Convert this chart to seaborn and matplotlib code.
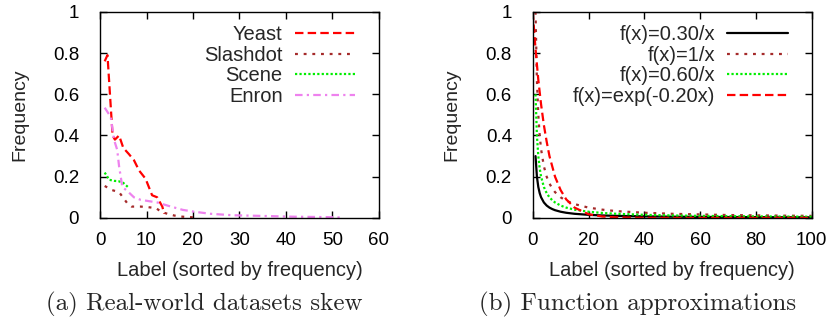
import matplotlib
matplotlib.use("Agg")
import matplotlib.pyplot as plt
import seaborn as sns

# (a) real-world datasets: label frequency, sorted
yeast_x = [1, 1.6, 2.7, 3.2, 4.1, 5.0, 6.2, 7.3, 8.4, 9.8, 10.5, 11.2, 12.3, 13.4, 13.8]
yeast_y = [0.76, 0.79, 0.40, 0.38, 0.40, 0.34, 0.31, 0.28, 0.23, 0.19, 0.15, 0.11, 0.10, 0.055, 0.02]

slashdot_x = [1, 2.6, 4.1, 5.9, 6.8, 8.7, 10.1, 12.1, 13.1, 14.5, 15.9, 17, 18.5, 20]
slashdot_y = [0.155, 0.135, 0.125, 0.07, 0.055, 0.055, 0.053, 0.047, 0.03, 0.02, 0.012, 0.007, 0.005, 0.003]

scene_x = [1, 2, 3, 4, 5, 6]
scene_y = [0.22, 0.185, 0.18, 0.178, 0.17, 0.15]

enron_x = [1, 2.3, 3.0, 3.7, 4.1, 4.8, 5.9, 7.3, 8.7, 10.9, 12.3, 14.8, 17.8, 20.6,
           23.8, 28.5, 34.3, 41.4, 48.6, 52]
enron_y = [0.535, 0.49, 0.38, 0.33, 0.25, 0.15, 0.13, 0.10, 0.088, 0.08, 0.075, 0.058,
           0.039, 0.029, 0.02, 0.013, 0.01, 0.006, 0.004, 0.002]

# (b) function approximations
fx = [1, 1.5, 2, 2.5, 3, 4, 5, 6, 7, 8, 10, 12, 15, 20, 25, 30, 40, 50, 60, 70, 80, 90, 100]
f030 = [0.30, 0.20, 0.15, 0.12, 0.10, 0.075, 0.06, 0.05, 0.043, 0.0375, 0.03, 0.025, 0.02,
        0.015, 0.012, 0.01, 0.0075, 0.006, 0.005, 0.0043, 0.0038, 0.0033, 0.003]
f100 = [1.0, 0.667, 0.5, 0.4, 0.333, 0.25, 0.2, 0.167, 0.143, 0.125, 0.1, 0.083, 0.067,
        0.05, 0.04, 0.033, 0.025, 0.02, 0.017, 0.014, 0.0125, 0.011, 0.01]
f060 = [0.6, 0.4, 0.3, 0.24, 0.2, 0.15, 0.12, 0.1, 0.086, 0.075, 0.06, 0.05, 0.04, 0.03,
        0.024, 0.02, 0.015, 0.012, 0.01, 0.0086, 0.0075, 0.0067, 0.006]
ex = [0, 1, 2, 3, 4, 5, 6, 8, 10, 12, 15, 20, 25, 30, 40, 50, 60, 80, 100]
fexp = [1.0, 0.82, 0.67, 0.55, 0.45, 0.37, 0.30, 0.20, 0.135, 0.09, 0.05, 0.018, 0.0067,
        0.0025, 0.0003, 0.0, 0.0, 0.0, 0.0]

sns.set_style("ticks")
plt.rcParams["font.family"] = ["Liberation Sans", "DejaVu Sans"]

RED = "#ff0000"
BROWN = "#a52a2a"
GREEN = "#00ee00"
VIOLET = "#ee82ee"

fig = plt.figure(figsize=(8.35, 3.2), dpi=100)
ax1 = fig.add_axes([0.1198, 0.319, 0.334, 0.644])
ax2 = fig.add_axes([0.638, 0.319, 0.334, 0.644])

lw = 1.6
sns.lineplot(x=yeast_x, y=yeast_y, ax=ax1, color=RED, lw=lw, label="Yeast",
             estimator=None)
sns.lineplot(x=slashdot_x, y=slashdot_y, ax=ax1, color=BROWN, lw=lw, label="Slashdot",
             estimator=None)
sns.lineplot(x=scene_x, y=scene_y, ax=ax1, color=GREEN, lw=lw, label="Scene",
             estimator=None)
sns.lineplot(x=enron_x, y=enron_y, ax=ax1, color=VIOLET, lw=lw, label="Enron",
             estimator=None)
styles1 = [(0, (3.8, 1.9)), (0, (1.3, 2.6)), (0, (1, 1)), (0, (3.4, 1.9, 1, 1.9))]
for line, ls in zip(ax1.get_lines(), styles1):
    line.set_linestyle(ls)

sns.lineplot(x=fx, y=f030, ax=ax2, color="black", lw=lw, label="f(x)=0.30/x",
             estimator=None)
sns.lineplot(x=fx, y=f100, ax=ax2, color=BROWN, lw=lw, label="f(x)=1/x",
             estimator=None)
sns.lineplot(x=fx, y=f060, ax=ax2, color=GREEN, lw=lw, label="f(x)=0.60/x",
             estimator=None)
sns.lineplot(x=ex, y=fexp, ax=ax2, color=RED, lw=lw, label="f(x)=exp(-0.20x)",
             estimator=None)
styles2 = ["-", (0, (1.3, 2.6)), (0, (1, 1)), (0, (3.8, 1.9))]
for line, ls in zip(ax2.get_lines(), styles2):
    line.set_linestyle(ls)

for ax, xmax, step in [(ax1, 60, 10), (ax2, 100, 20)]:
    ax.set_xlim(0, xmax)
    ax.set_ylim(0, 1)
    ax.set_xticks(range(0, xmax + 1, step))
    ax.set_yticks([0, 0.2, 0.4, 0.6, 0.8, 1])
    ax.set_yticklabels(["0", "0.2", "0.4", "0.6", "0.8", "1"])
    ax.tick_params(direction="in", top=True, right=True, length=5, width=1,
                   labelsize=13.5, color="black", labelcolor="black")
    ax.tick_params(axis="x", pad=10)
    ax.tick_params(axis="y", pad=15)
    for sp in ax.spines.values():
        sp.set_visible(True)
        sp.set_color("black")
        sp.set_linewidth(1)
    ax.set_xlabel("Label (sorted by frequency)", fontsize=14.5, labelpad=9)
    ax.set_ylabel("Frequency", fontsize=14, labelpad=18)

    leg = ax.legend(loc="upper right", bbox_to_anchor=(0.915, 0.935), frameon=False,
                    markerfirst=False, fontsize=14.5, handlelength=3.0,
                    handletextpad=0.6, labelspacing=0.08, borderpad=0,
                    borderaxespad=0)
    for col in leg._legend_box.get_children()[1].get_children():
        col.align = "right"

fig.text(0.245, 0.05, "(a) Real-world datasets skew", family="cmr10", fontsize=18,
         ha="center", va="center")
fig.text(0.764, 0.05, "(b) Function approximations", family="cmr10", fontsize=18,
         ha="center", va="center")

fig.savefig("out.png", dpi=100)
